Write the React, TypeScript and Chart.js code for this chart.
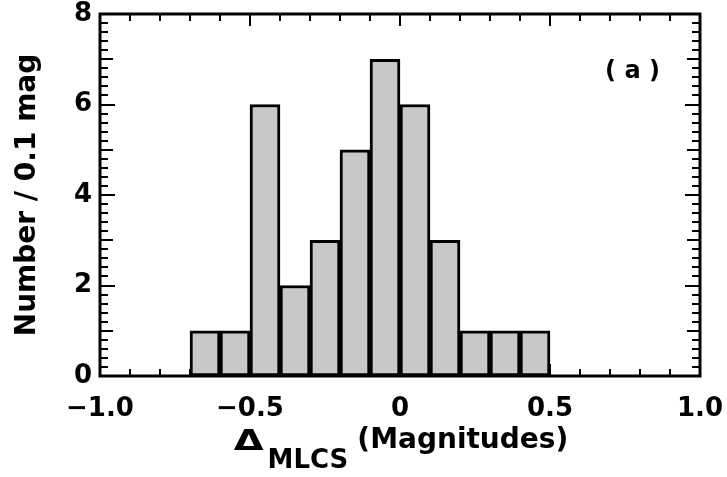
import React, { useEffect, useRef } from 'react';
import { Chart, registerables } from 'chart.js';

Chart.register(...registerables);

// Histogram bins (width 0.1 mag): centres and counts
const binCenters = [-0.65, -0.55, -0.45, -0.35, -0.25, -0.15, -0.05, 0.05, 0.15, 0.25, 0.35, 0.45];
const counts = [1, 1, 6, 2, 3, 5, 7, 6, 3, 1, 1, 1];
const xTickValues = [-1.0, -0.5, 0, 0.5, 1.0];
const xTickLabels = ['\u22121.0', '\u22120.5', '0', '0.5', '1.0'];
const yTickValues = [0, 2, 4, 6, 8];
const yTickLabels = ['0', '2', '4', '6', '8'];
const yTitle = 'Number / 0.1 mag';
const xTitleSymbol = '\u0394';
const xTitleSub = 'MLCS';
const xTitleRest = '(Magnitudes)';
const panelLabel = '( a )';

const FONT = '"DejaVu Sans", sans-serif';

const framePlugin = {
  id: 'frameTicks',
  afterDraw(chart: any) {
    const { ctx, chartArea } = chart;
    const xs = chart.scales.x;
    const ys = chart.scales.y;
    const { left, right, top, bottom } = chartArea;
    ctx.save();
    ctx.strokeStyle = '#000';
    // minor/major ticks
    ctx.lineWidth = 2;
    ctx.beginPath();
    for (let i = -10; i <= 10; i++) {
      const v = i / 10;
      const px = Math.round(xs.getPixelForValue(v));
      const len = i % 5 === 0 ? 12 : 7;
      ctx.moveTo(px, bottom);
      ctx.lineTo(px, bottom - len);
      ctx.moveTo(px, top);
      ctx.lineTo(px, top + len);
    }
    for (let i = 0; i <= 40; i++) {
      const v = i / 5;
      const py = Math.round(ys.getPixelForValue(v));
      const len = i % 10 === 0 ? 15 : i % 5 === 0 ? 13 : 8;
      ctx.moveTo(left, py);
      ctx.lineTo(left + len, py);
      ctx.moveTo(right, py);
      ctx.lineTo(right - len, py);
    }
    ctx.stroke();
    // frame
    ctx.lineWidth = 3;
    ctx.strokeRect(left, top, right - left, bottom - top);

    // panel label
    ctx.fillStyle = '#000';
    ctx.font = `bold 24px ${FONT}`;
    ctx.textAlign = 'center';
    ctx.textBaseline = 'middle';
    ctx.fillText(panelLabel, xs.getPixelForValue(0.775), ys.getPixelForValue(6.72));

    // x-axis title: Δ_MLCS (Magnitudes)
    ctx.textAlign = 'left';
    ctx.textBaseline = 'alphabetic';
    ctx.font = `bold 28px ${FONT}`;
    const wD = ctx.measureText(xTitleSymbol).width * 1.38;
    ctx.font = `bold 26px ${FONT}`;
    const wS = ctx.measureText(xTitleSub).width;
    ctx.font = `bold 28px ${FONT}`;
    const wR = ctx.measureText(xTitleRest).width;
    const gap1 = 4;
    const gap2 = 9;
    const total = wD + gap1 + wS + gap2 + wR;
    let x0 = (left + right) / 2 - total / 2 + 1;
    ctx.save();
    ctx.translate(x0, bottom + 74);
    ctx.scale(1.38, 1);
    ctx.font = `bold 28px ${FONT}`;
    ctx.fillText(xTitleSymbol, 0, 0);
    ctx.restore();
    x0 += wD + gap1;
    ctx.font = `bold 26px ${FONT}`;
    ctx.fillText(xTitleSub, x0, bottom + 92);
    x0 += wS + gap2;
    ctx.font = `bold 28px ${FONT}`;
    ctx.fillText(xTitleRest, x0, bottom + 72);
    ctx.restore();
  },
};

export default function App() {
  const canvasRef = useRef<HTMLCanvasElement | null>(null);

  useEffect(() => {
    document.body.style.margin = '0';
    const canvas = canvasRef.current;
    if (!canvas) return;
    const chart = new Chart(canvas, {
      type: 'bar',
      data: {
        datasets: [
          {
            data: binCenters.map((x, i) => ({ x, y: counts[i] })),
            backgroundColor: '#c8c8c8',
            borderColor: '#000',
            borderWidth: 3,
            borderSkipped: false,
            barPercentage: 1,
            categoryPercentage: 1,
          },
        ],
      },
      options: {
        animation: false,
        responsive: false,
        maintainAspectRatio: false,
        layout: { padding: { top: 14, right: 27, left: 0, bottom: 0 } },
        plugins: {
          legend: { display: false },
          tooltip: { enabled: false },
          title: { display: false },
        },
        scales: {
          x: {
            type: 'linear',
            min: -1,
            max: 1,
            offset: false,
            grid: { display: false, drawTicks: false, offset: false },
            border: { display: false },
            afterBuildTicks: (scale: any) => {
              scale.ticks = xTickValues.map((v) => ({ value: v }));
            },
            afterFit: (scale: any) => {
              scale.height = 101;
              scale.paddingLeft = 0;
              scale.paddingRight = 0;
            },
            ticks: {
              autoSkip: false,
              maxRotation: 0,
              padding: 18,
              color: '#000',
              font: { family: FONT, size: 26, weight: 'bold' },
              callback: (value: any) => {
                const idx = xTickValues.findIndex((v) => Math.abs(v - Number(value)) < 1e-9);
                return idx >= 0 ? xTickLabels[idx] : '';
              },
            },
          },
          y: {
            type: 'linear',
            min: 0,
            max: 8,
            grid: { display: false, drawTicks: false },
            border: { display: false },
            afterBuildTicks: (scale: any) => {
              scale.ticks = yTickValues.map((v) => ({ value: v }));
            },
            afterFit: (scale: any) => {
              scale.width = 100;
              scale.paddingTop = 0;
              scale.paddingBottom = 0;
            },
            ticks: {
              autoSkip: false,
              padding: 8,
              color: '#000',
              font: { family: FONT, size: 26, weight: 'bold' },
              callback: (value: any) => {
                const idx = yTickValues.findIndex((v) => Math.abs(v - Number(value)) < 1e-9);
                return idx >= 0 ? yTickLabels[idx] : '';
              },
            },
            title: {
              display: true,
              text: yTitle,
              color: '#000',
              font: { family: FONT, size: 28, weight: 'bold' },
              padding: { top: 11, bottom: 0 },
            },
          },
        },
      },
      plugins: [framePlugin],
    } as any);
    return () => chart.destroy();
  }, []);

  return (
    <div style={{ width: 727, height: 477, background: '#fff' }}>
      <canvas ref={canvasRef} width={727} height={477} style={{ display: 'block' }} />
    </div>
  );
}
